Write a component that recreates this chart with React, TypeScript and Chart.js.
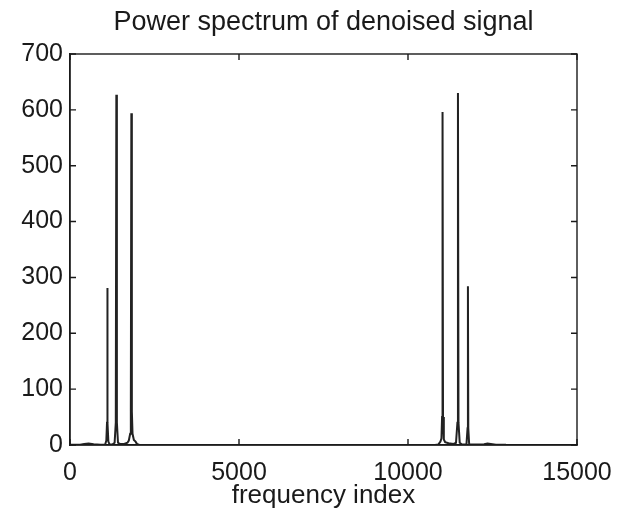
import React, { useEffect, useRef } from "react";
import { Chart, registerables } from "chart.js";

Chart.register(...registerables);

// Frequency indices (x) and power values (y)
const freqIndex: number[] = [
  0, 300, 420, 550, 700, 900, 1040, 1075, 1095, 1104, 1113, 1135, 1170,
  1250, 1320, 1355, 1371, 1387, 1420, 1480, 1600, 1700, 1740, 1780, 1800,
  1815, 1830, 1850, 1890, 1940, 1980, 2050, 5000, 8000, 10800, 10900, 10960,
  10990, 11008, 11022, 11036, 11060, 11100, 11200, 11350, 11420, 11462,
  11478, 11494, 11530, 11600, 11730, 11762, 11773, 11784, 11810, 12000,
  12250, 12350, 12450, 12600, 12900,
];
const power: number[] = [
  0.5, 0.5, 2, 2.5, 1.5, 0.5, 1, 8, 40, 281, 40, 6, 1,
  1, 4, 40, 627, 40, 4, 2, 2, 4, 8, 20, 60,
  594, 60, 20, 9, 6, 2, 0, 0.2, 0.2, 0, 1, 6,
  12, 50, 596, 50, 10, 5, 3, 2, 4, 40,
  630, 40, 4, 1, 1, 30, 284, 30, 1, 1,
  1.5, 2.5, 2, 0.5, 0.3,
];

const xTickStep = 5000;
const yTickStep = 100;
const xMax = 15000;
const yMax = 700;

const titleText = "Power spectrum of denoised signal";
const xTitleText = "frequency index";

const FONT = "'Liberation Sans', Arial, Helvetica, sans-serif";
const INK = "#1a1a1a";

const boxAndTicks = {
  id: "boxAndTicks",
  beforeDraw(chart: any) {
    const tb = chart.titleBlock;
    const ca = chart.chartArea;
    if (tb && ca) {
      tb.left = ca.left;
      tb.right = ca.right;
      tb.width = ca.right - ca.left;
    }
  },
  afterDraw(chart: any) {
    const { ctx, chartArea } = chart;
    const { left, right, top, bottom } = chartArea;
    const xs = chart.scales.x;
    const ys = chart.scales.y;
    const len = 6;
    ctx.save();
    ctx.strokeStyle = INK;
    ctx.lineWidth = 1.4;
    ctx.strokeRect(left, top, right - left, bottom - top);
    ctx.beginPath();
    xs.ticks.forEach((t: any) => {
      const px = xs.getPixelForValue(t.value);
      ctx.moveTo(px, bottom);
      ctx.lineTo(px, bottom - len);
      ctx.moveTo(px, top);
      ctx.lineTo(px, top + len);
    });
    ys.ticks.forEach((t: any) => {
      const py = ys.getPixelForValue(t.value);
      ctx.moveTo(left, py);
      ctx.lineTo(left + len, py);
      ctx.moveTo(right, py);
      ctx.lineTo(right - len, py);
    });
    ctx.stroke();
    ctx.restore();
  },
};

export default function App() {
  const ref = useRef<HTMLCanvasElement | null>(null);
  useEffect(() => {
    if (!ref.current) return;
    const points = freqIndex.map((x, i) => ({ x, y: power[i] }));
    const chart = new Chart(ref.current, {
      type: "scatter",
      data: {
        datasets: [
          {
            data: points,
            showLine: true,
            borderColor: "#222",
            borderWidth: 2,
            pointRadius: 0,
            tension: 0,
            fill: false,
          },
        ],
      },
      options: {
        animation: false,
        responsive: false,
        layout: { padding: { left: 0, right: 48, top: 0, bottom: 0 } },
        plugins: {
          legend: { display: false },
          tooltip: { enabled: false },
          title: {
            display: true,
            text: titleText,
            color: INK,
            font: { family: FONT, size: 27, weight: "normal" },
            padding: { top: 6, bottom: 15.6 },
          },
        },
        scales: {
          x: {
            type: "linear",
            min: 0,
            max: xMax,
            grid: { display: false, drawTicks: false },
            border: { display: true, color: INK, width: 1.4 },
            ticks: {
              stepSize: xTickStep,
              color: INK,
              padding: 13,
              maxRotation: 0,
              font: { family: FONT, size: 25 },
              callback: (v: any) => String(v),
            },
            title: {
              display: true,
              text: xTitleText,
              color: INK,
              font: { family: FONT, size: 26 },
              padding: { top: 0, bottom: 4 },
            },
            afterFit(scale: any) {
              scale.height = 70;
            },
          },
          y: {
            type: "linear",
            min: 0,
            max: yMax,
            grid: { display: false, drawTicks: false },
            border: { display: true, color: INK, width: 1.4 },
            ticks: {
              stepSize: yTickStep,
              color: INK,
              padding: 7,
              font: { family: FONT, size: 25 },
              callback: (v: any) => String(v),
            },
            afterFit(scale: any) {
              scale.width = 70;
            },
          },
        },
      },
      plugins: [boxAndTicks],
    });
    return () => chart.destroy();
  }, []);
  return (
    <div style={{ position: "absolute", left: 0, top: 0, width: 625, height: 515, background: "#fff" }}>
      <canvas ref={ref} width={625} height={515} style={{ display: "block" }} />
    </div>
  );
}
